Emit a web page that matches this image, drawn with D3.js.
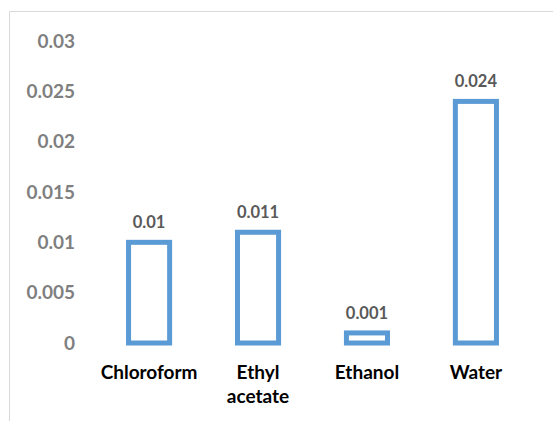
<!DOCTYPE html>
<html>
<head>
<meta charset="utf-8">
<script src="https://cdnjs.cloudflare.com/ajax/libs/d3/7.8.5/d3.min.js"></script>
<style>
  body { margin: 0; background: #fff; }
  svg { display: block; font-family: Lato, "Open Sans", sans-serif; font-weight: 700; }
</style>
</head>
<body>
<svg width="553" height="421"></svg>
<script>
// chart data
var categories = ["Chloroform", "Ethyl acetate", "Ethanol", "Water"];
var values = [0.01, 0.011, 0.001, 0.024];
var valueLabels = ["0.01", "0.011", "0.001", "0.024"];
var tickValues = [0, 0.005, 0.01, 0.015, 0.02, 0.025, 0.03];
var tickLabels = ["0", "0.005", "0.01", "0.015", "0.02", "0.025", "0.03"];

var svg = d3.select("svg");

// outer frame (only top and left edges show in the crop)
svg.append("path")
  .attr("d", "M9.5,421V11.5H553")
  .attr("fill", "none")
  .attr("stroke", "#d9d9d9")
  .attr("stroke-width", 1);

var x = d3.scaleBand()
  .domain(categories)
  .range([95, 530])
  .paddingInner(0.577)
  .paddingOuter(0.285);

var y = d3.scaleLinear()
  .domain([0, 0.03])
  .range([343, 41]);

// y axis labels
var yAxis = svg.append("g")
  .attr("transform", "translate(75,0)")
  .call(d3.axisLeft(y)
    .tickValues(tickValues)
    .tickSize(0)
    .tickPadding(0)
    .tickFormat(function(d, i){ return tickLabels[i]; }));
yAxis.select(".domain").remove();
yAxis.selectAll("text")
  .attr("fill", "#7f7f7f")
  .style("font-size", "19px")
  .style("font-family", "Lato, sans-serif")
  .style("font-weight", "700");

// bars (outlined)
var sw = 5;
svg.append("g")
  .selectAll("rect")
  .data(values)
  .enter()
  .append("rect")
    .attr("x", function(d, i){ return x(categories[i]) + sw / 2; })
    .attr("width", x.bandwidth() - sw)
    .attr("y", function(d){ return y(d); })
    .attr("height", function(d){ return y(0) - y(d); })
    .attr("fill", "#fff")
    .attr("stroke", "#5b9bd5")
    .attr("stroke-width", sw);

// value labels
svg.append("g")
  .selectAll("text")
  .data(values)
  .enter()
  .append("text")
    .attr("x", function(d, i){ return x(categories[i]) + x.bandwidth() / 2; })
    .attr("y", function(d){ return y(d) - 14; })
    .attr("text-anchor", "middle")
    .attr("fill", "#595959")
    .style("font-size", "16.5px")
    .text(function(d, i){ return valueLabels[i]; });

// category labels, wrapped on spaces
var cat = svg.append("g")
  .selectAll("text")
  .data(categories)
  .enter()
  .append("text")
    .attr("x", function(d){ return x(d) + x.bandwidth() / 2; })
    .attr("y", 379)
    .attr("text-anchor", "middle")
    .attr("fill", "#000")
    .style("font-size", "19px");
cat.each(function(d){
  var t = d3.select(this);
  d.split(" ").forEach(function(w, k){
    t.append("tspan")
      .attr("x", t.attr("x"))
      .attr("dy", k === 0 ? 0 : 24)
      .text(w);
  });
});
</script>
</body>
</html>
